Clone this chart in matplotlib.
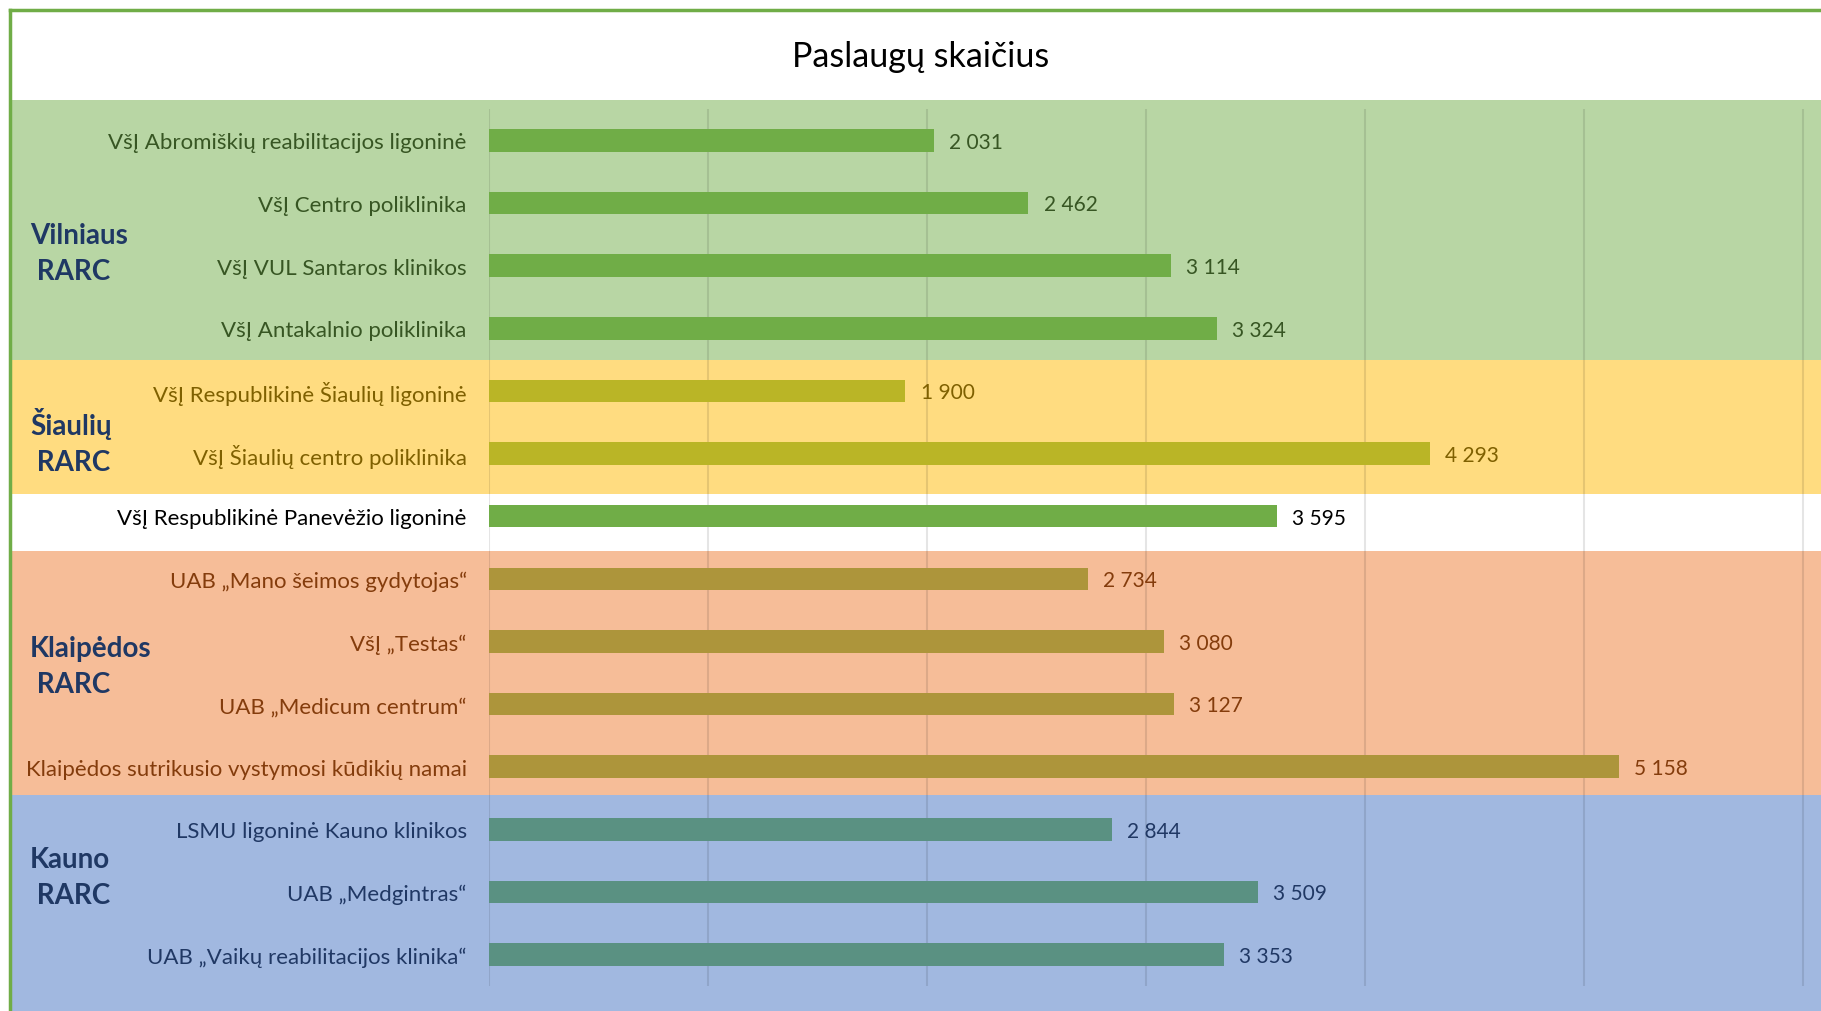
"""Paslaugų skaičius pagal RARC: horizontalios juostos su spalvotomis grupių juostomis."""

import matplotlib.pyplot as plt
from matplotlib.lines import Line2D
from matplotlib.patches import Rectangle
from matplotlib.transforms import blended_transform_factory

plt.rcParams["font.family"] = ["Lato", "DejaVu Sans"]

# --- duomenys (iš viršaus į apačią) ---
categories = [
    "VšĮ Abromiškių reabilitacijos ligoninė",
    "VšĮ Centro poliklinika",
    "VšĮ VUL Santaros klinikos",
    "VšĮ Antakalnio poliklinika",
    "VšĮ Respublikinė Šiaulių ligoninė",
    "VšĮ Šiaulių centro poliklinika",
    "VšĮ Respublikinė Panevėžio ligoninė",
    "UAB „Mano šeimos gydytojas“",
    "VšĮ „Testas“",
    "UAB „Medicum centrum“",
    "Klaipėdos sutrikusio vystymosi kūdikių namai",
    "LSMU ligoninė Kauno klinikos",
    "UAB „Medgintras“",
    "UAB „Vaikų reabilitacijos klinika“",
]
values = [2031, 2462, 3114, 3324, 1900, 4293, 3595, 2734, 3080, 3127, 5158, 2844, 3509, 3353]
group_of = [0, 0, 0, 0, 1, 1, 2, 3, 3, 3, 3, 4, 4, 4]
group_names = ["Vilniaus\n RARC", "Šiaulių\n RARC", "", "Klaipėdos\n RARC", "Kauno\n RARC"]

# --- stilius ---
band_colors = ["#B8D6A4", "#FFDC80", "#FFFFFF", "#F6BD98", "#A1B8E0"]
bar_colors = ["#70AD47", "#BAB526", "#70AD47", "#AD953B", "#5A9182"]
text_colors = ["#375623", "#7F6000", "#000000", "#843C0C", "#203864"]
band_edges = [-0.64, 3.5, 5.65, 6.55, 10.45, 14.2]
group_label_nudge = [0.3, 0.3, 0.0, -0.11, -0.24]

W, H = 1821, 1012
fig = plt.figure(figsize=(W / 100, H / 100), dpi=100)
ax = fig.add_axes([489 / W, 1 - 987 / H, 1 - 489 / W, (987 - 110) / H])
ax.set_facecolor("none")

n = len(categories)
ypos = list(range(n))
ax.barh(ypos, values, height=0.36, color=[bar_colors[g] for g in group_of], zorder=3)
ax.set_xlim(0, 6080)
ax.set_ylim(n - 0.5, -0.5)

ax.set_xticks(range(0, 7000, 1000))
ax.set_xticklabels([])
ax.tick_params(axis="x", length=0)
ax.grid(axis="x", color="#000000", alpha=0.1, linewidth=1.5)
ax.set_axisbelow(True)
for s in ax.spines.values():
    s.set_visible(False)

ax.set_yticks(ypos)
ax.set_yticklabels(categories, fontsize=16)
ax.tick_params(axis="y", length=0, pad=16)
for lbl, g in zip(ax.get_yticklabels(), group_of):
    lbl.set_color(text_colors[g])

for y, v, g in zip(ypos, values, group_of):
    ax.annotate(f"{v:,}".replace(",", " "), (v, y), xytext=(11, -1),
                textcoords="offset points", va="center", ha="left",
                fontsize=15, color=text_colors[g])

# fono juostos per visą plotį
tr = blended_transform_factory(fig.transFigure, ax.transData)
x0 = 10 / W
for g, color in enumerate(band_colors):
    lo, hi = band_edges[g], band_edges[g + 1]
    fig.patches.append(Rectangle((x0, lo), 1 - x0, hi - lo, transform=tr,
                                 facecolor=color, edgecolor="none", zorder=-2))

# grupių pavadinimai
for g, name in enumerate(group_names):
    if not name:
        continue
    idx = [i for i, gg in enumerate(group_of) if gg == g]
    yc = sum(idx) / len(idx) + group_label_nudge[g]
    fig.text(30 / W, yc, name, transform=tr, ha="left", va="center",
             fontsize=20, fontweight="bold", color="#1F3864", linespacing=1.5)

# rėmelis
fig.add_artist(Line2D([x0, 1], [1 - 11 / H, 1 - 11 / H], color="#70AD47", linewidth=2.5))
fig.add_artist(Line2D([x0, x0], [0, 1 - 11 / H], color="#70AD47", linewidth=2.5))

fig.text(921 / W, 1 - 57 / H, "Paslaugų skaičius", ha="center", va="center",
         fontsize=24.5, color="#000000")

fig.savefig("out.png", dpi=100)
